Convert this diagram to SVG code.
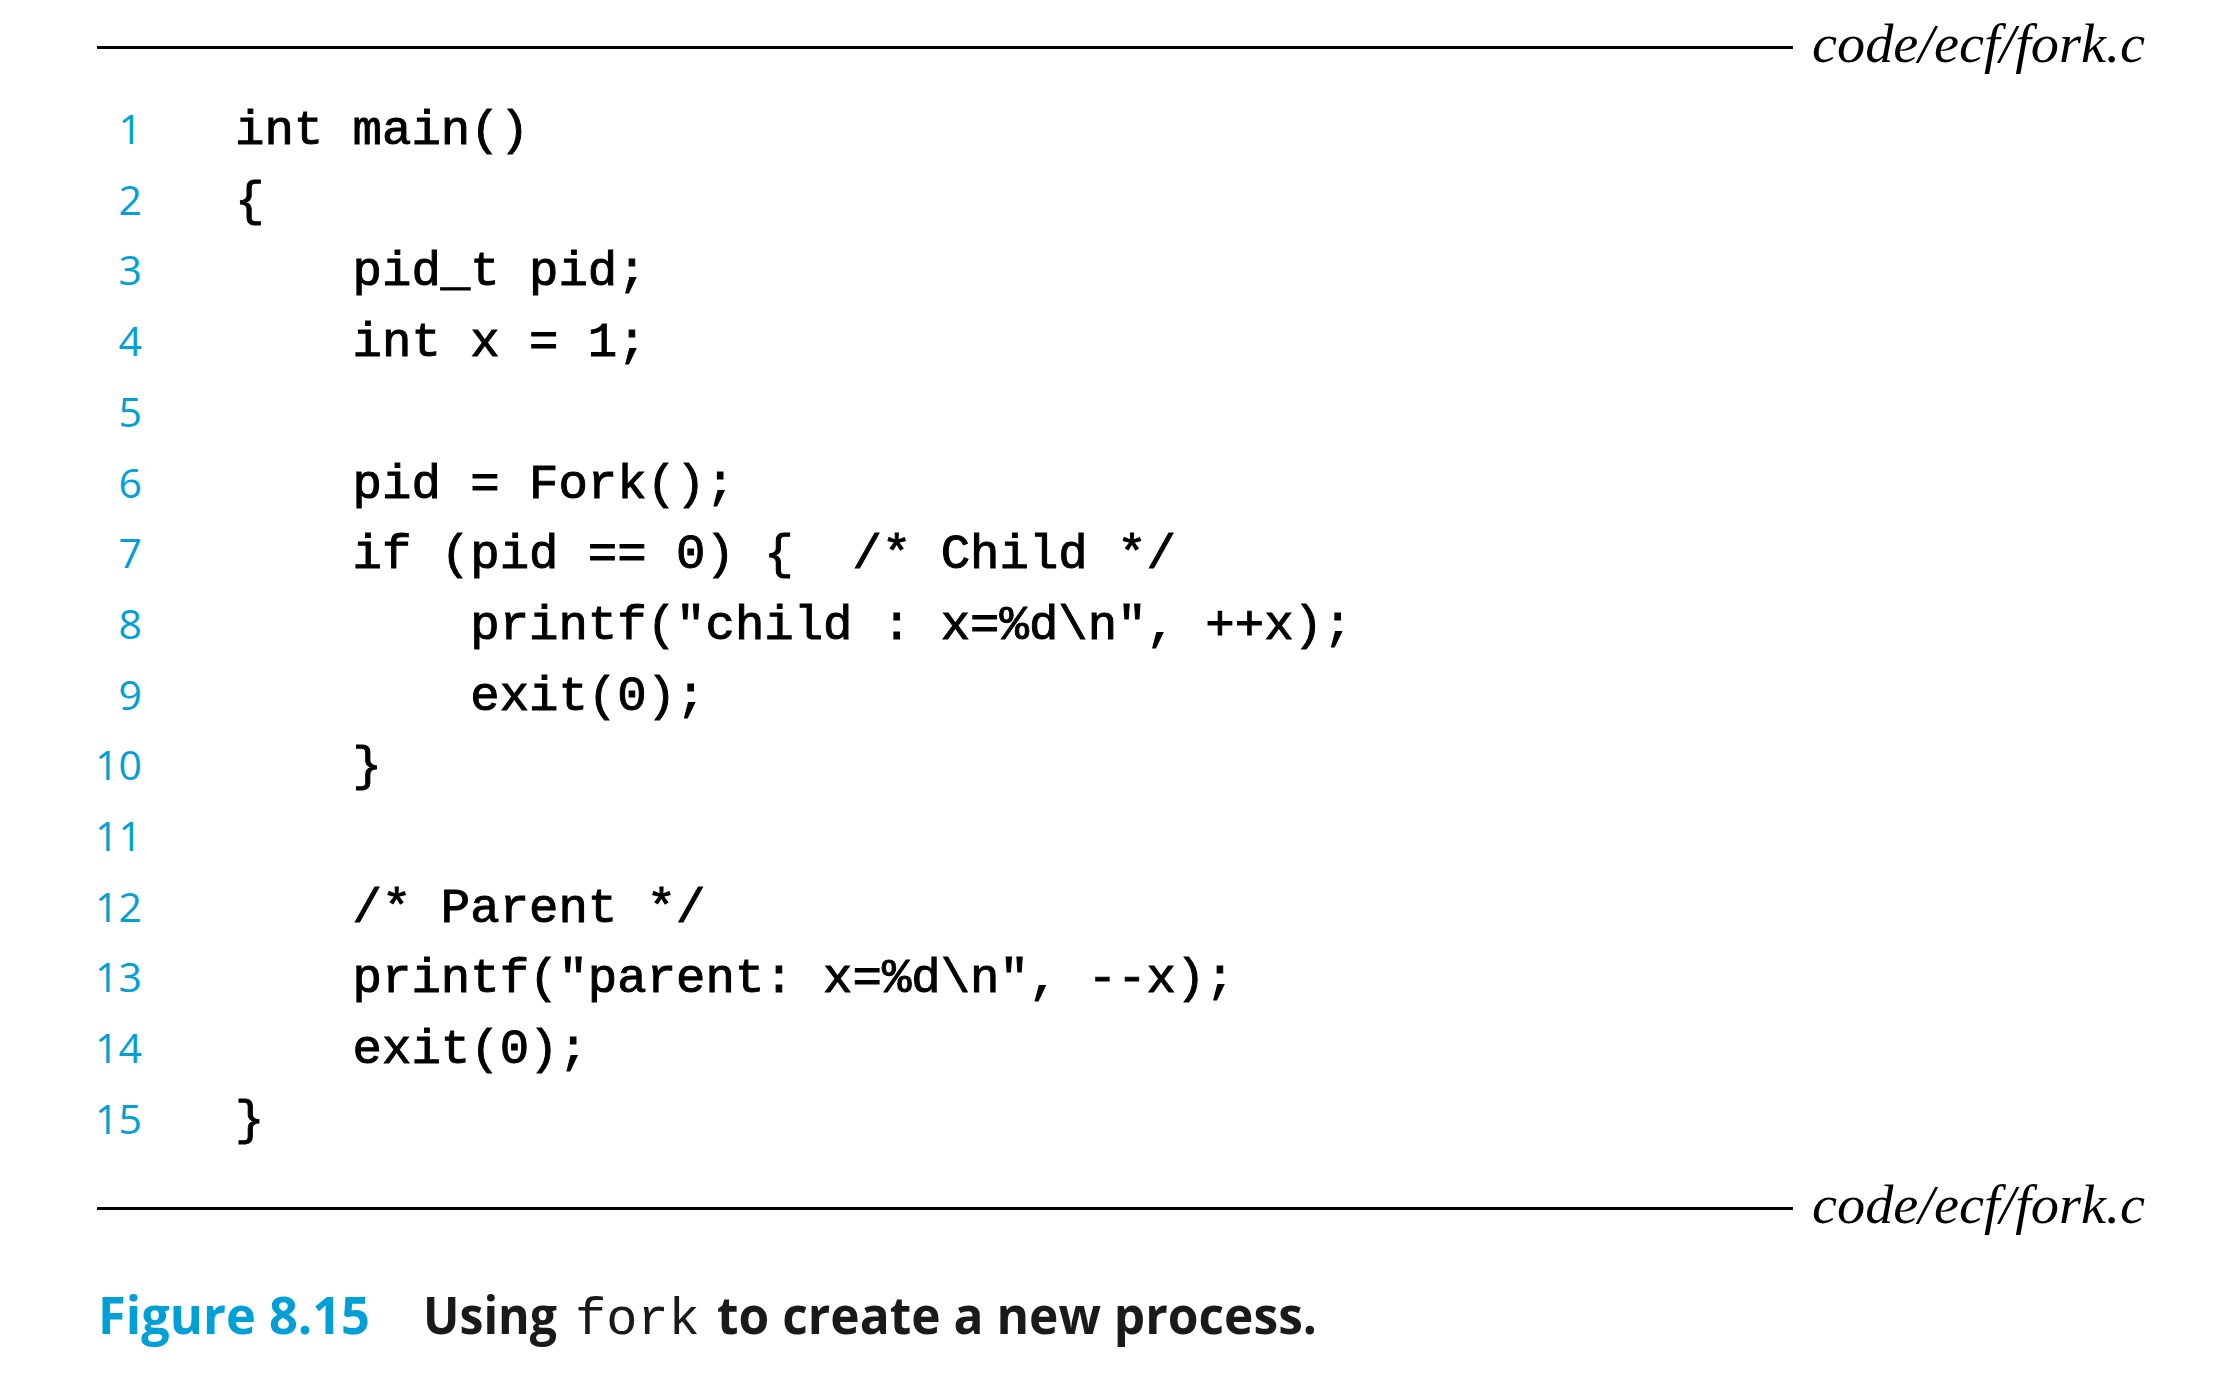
<svg xmlns="http://www.w3.org/2000/svg" width="2218" height="1390" viewBox="0 0 2218 1390">
<style>
.rule{stroke:#000;stroke-width:3.2;fill:none}
.file{font-family:"Liberation Serif",serif;font-style:italic;font-size:54px;fill:#000}
.ln{font-family:"Open Sans","Noto Sans",sans-serif;font-size:41px;font-weight:500;fill:#00a0d6;text-anchor:end}
.code{font-family:"Liberation Mono",monospace;font-size:49px;fill:#000;stroke:#000;stroke-width:1;white-space:pre}
.capn{font-family:"Open Sans","Noto Sans",sans-serif;font-weight:700;font-size:52px;fill:#00a0d6}
.capt{font-family:"Open Sans","Noto Sans",sans-serif;font-weight:700;font-size:52px;fill:#1a1a1a}
.capm{font-family:"Liberation Mono",monospace;font-size:52px;fill:#1a1a1a}
</style>
<rect width="2218" height="1390" fill="#fff"/>
<g id="header">
<line class="rule" x1="97" y1="47.5" x2="1793" y2="47.5"/>
<text class="file" x="1812" y="62" textLength="333" lengthAdjust="spacingAndGlyphs">code/ecf/fork.c</text>
</g>
<g id="line-numbers">
<text class="ln" x="142" y="144">1</text>
<text class="ln" x="142" y="214.7">2</text>
<text class="ln" x="142" y="285.4">3</text>
<text class="ln" x="142" y="356.1">4</text>
<text class="ln" x="142" y="426.8">5</text>
<text class="ln" x="142" y="497.5">6</text>
<text class="ln" x="142" y="568.2">7</text>
<text class="ln" x="142" y="638.9">8</text>
<text class="ln" x="142" y="709.6">9</text>
<text class="ln" x="142" y="780.3">10</text>
<text class="ln" x="142" y="851">11</text>
<text class="ln" x="142" y="921.7">12</text>
<text class="ln" x="142" y="992.4">13</text>
<text class="ln" x="142" y="1063.1">14</text>
<text class="ln" x="142" y="1133.8">15</text>
</g>
<g id="code" xml:space="preserve">
<text class="code" x="235" y="144">int main()</text>
<text class="code" x="235" y="214.7">{</text>
<text class="code" x="235" y="285.4">    pid_t pid;</text>
<text class="code" x="235" y="356.1">    int x = 1;</text>
<text class="code" x="235" y="497.5">    pid = Fork();</text>
<text class="code" x="235" y="568.2">    if (pid == 0) {  /* Child */</text>
<text class="code" x="235" y="638.9">        printf("child : x=%d\n", ++x);</text>
<text class="code" x="235" y="709.6">        exit(0);</text>
<text class="code" x="235" y="780.3">    }</text>
<text class="code" x="235" y="921.7">    /* Parent */</text>
<text class="code" x="235" y="992.4">    printf("parent: x=%d\n", --x);</text>
<text class="code" x="235" y="1063.1">    exit(0);</text>
<text class="code" x="235" y="1133.8">}</text>
</g>
<g id="footer">
<line class="rule" x1="97" y1="1208.5" x2="1793" y2="1208.5"/>
<text class="file" x="1812" y="1223" textLength="333" lengthAdjust="spacingAndGlyphs">code/ecf/fork.c</text>
</g>
<g id="caption">
<text class="capn" x="98" y="1334" textLength="272" lengthAdjust="spacingAndGlyphs">Figure 8.15</text>
<text class="capt" x="423" y="1334" textLength="134" lengthAdjust="spacingAndGlyphs">Using</text>
<text class="capm" x="575" y="1334">fork</text>
<text class="capt" x="717" y="1334" textLength="600" lengthAdjust="spacingAndGlyphs">to create a new process.</text>
</g>
</svg>
